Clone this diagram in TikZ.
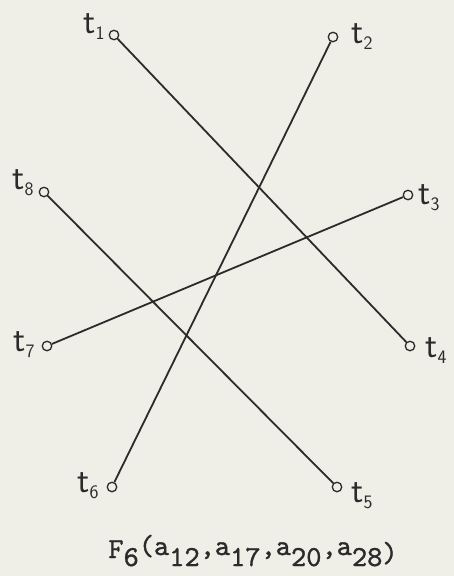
\documentclass[tikz,border=0pt]{standalone}
\usepackage{fontspec}
\newfontfamily\capfont[FakeBold=1.2]{lmmono10-regular.otf}
\definecolor{paper}{HTML}{EFEEE7}
\definecolor{ink}{HTML}{2B2B2B}
\newcommand\tlab[1]{t\raisebox{-6pt}{\fontsize{19}{19}\selectfont #1}}
\newcommand\capsub[1]{\raisebox{-8pt}{#1}}
\newcommand\capup[1]{\raisebox{3pt}{#1}}
\begin{document}
\begin{tikzpicture}[x=1pt,y=-1pt,
  vtx/.style={circle,draw=ink,line width=1.3pt,inner sep=0pt,minimum size=9.5pt},
  edge/.style={draw=ink,line width=1.8pt},
  lab/.style={inner sep=0pt,text=ink,font=\sffamily\fontsize{36}{36}\selectfont},
  captxt/.style={inner sep=0pt,text=ink,font=\capfont\fontsize{29}{29}\selectfont}]
\fill[paper] (0,0) rectangle (454,576);
\useasboundingbox (0,0) rectangle (454,576);
% vertices
\node[vtx] (t1) at (114,35) {};
\node[vtx] (t2) at (333,37) {};
\node[vtx] (t3) at (408,195) {};
\node[vtx] (t4) at (410,346) {};
\node[vtx] (t5) at (337,487) {};
\node[vtx] (t6) at (112,487) {};
\node[vtx] (t7) at (47,346) {};
\node[vtx] (t8) at (44,192) {};
% labels
\node[lab] (l1) at (94,27) {\tlab{1}};
\node[lab] (l2) at (362,37) {\tlab{2}};
\node[lab] (l3) at (429,198) {\tlab{3}};
\node[lab] (l4) at (436,351) {\tlab{4}};
\node[lab] (l5) at (362,496) {\tlab{5}};
\node[lab] (l6) at (88,486) {\tlab{6}};
\node[lab] (l7) at (24,345) {\tlab{7}};
\node[lab] (l8) at (23,183) {\tlab{8}};
% edges
\draw[edge] (t1) -- (t4);
\draw[edge] (t2) -- (t6);
\draw[edge] (t8) -- (t5);
\draw[edge] (t7) -- (t3);
% caption
\node[captxt,anchor=base] (cap) at (253,558)
  {F\capsub{6}\capup{(a}\capsub{12}\capup{,a}\capsub{17}\capup{,a}\capsub{20}\capup{,a}\capsub{28}\raisebox{-4pt}{)}};
\end{tikzpicture}
\end{document}
